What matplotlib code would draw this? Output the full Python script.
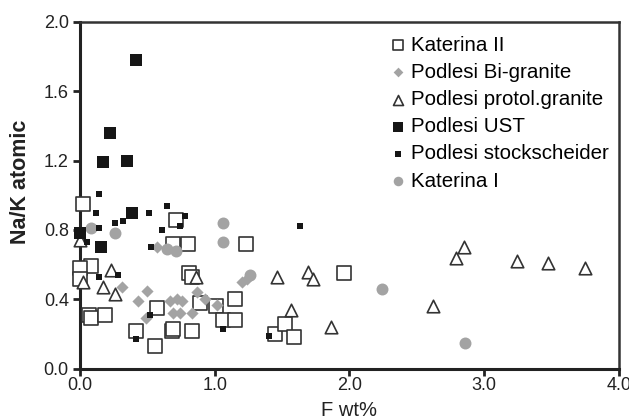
import numpy as np
import matplotlib
matplotlib.use("Agg")
import matplotlib.pyplot as plt

plt.rcParams['font.family'] = ['Liberation Sans', 'DejaVu Sans']

# Katerina II (open squares)
kat2_f = [0.02, 0.08, 0.00, 0.00, 0.07, 0.08, 0.19, 0.71, 0.69, 0.80, 1.23, 0.81, 0.83,
          0.57, 0.42, 0.56, 0.68, 0.69, 0.83, 0.89, 1.01, 1.06, 1.15, 1.15, 1.45, 1.52,
          1.59, 1.96]
kat2_nak = [0.95, 0.59, 0.58, 0.52, 0.31, 0.29, 0.31, 0.86, 0.72, 0.72, 0.72, 0.55, 0.53,
            0.35, 0.22, 0.13, 0.22, 0.23, 0.22, 0.38, 0.36, 0.28, 0.28, 0.40, 0.20, 0.26,
            0.18, 0.55]

# Podlesi Bi-granite (grey diamonds)
bi_f = [0.57, 0.31, 0.50, 0.43, 0.49, 0.67, 0.72, 0.76, 0.69, 0.74, 0.83, 0.87, 0.93,
        1.02, 1.20, 1.24]
bi_nak = [0.70, 0.47, 0.45, 0.39, 0.29, 0.39, 0.40, 0.39, 0.32, 0.32, 0.32, 0.44, 0.40,
          0.37, 0.50, 0.52]

# Podlesi protolithionite granite (open triangles)
prot_f = [0.00, 0.02, 0.23, 0.17, 0.26, 0.86, 1.46, 1.69, 1.73, 1.57, 1.86, 2.62, 2.79,
          2.85, 3.24, 3.47, 3.75]
prot_nak = [0.74, 0.50, 0.57, 0.47, 0.43, 0.53, 0.53, 0.56, 0.52, 0.34, 0.24, 0.36, 0.64,
            0.70, 0.62, 0.61, 0.58]

# Podlesi UST (large black squares)
ust_f = [0.42, 0.22, 0.17, 0.35, 0.39, 0.16, 0.00]
ust_nak = [1.78, 1.36, 1.19, 1.20, 0.90, 0.70, 0.78]

# Podlesi stockscheider (small black squares)
stock_f = [0.14, 0.12, 0.14, 0.26, 0.32, 0.51, 0.65, 0.61, 0.53, 0.05, 0.14, 0.28, 0.78,
           0.74, 1.63, 0.52, 0.42, 1.06, 1.40]
stock_nak = [1.01, 0.90, 0.81, 0.84, 0.85, 0.90, 0.94, 0.80, 0.70, 0.73, 0.53, 0.54, 0.88,
             0.82, 0.82, 0.31, 0.17, 0.23, 0.19]

# Katerina I (grey circles)
kat1_f = [0.08, 0.26, 0.65, 0.71, 1.06, 1.06, 1.26, 2.24, 2.86]
kat1_nak = [0.81, 0.78, 0.69, 0.68, 0.84, 0.73, 0.54, 0.46, 0.15]

xticks = [0.0, 1.0, 2.0, 3.0, 4.0]
yticks = [0.0, 0.4, 0.8, 1.2, 1.6, 2.0]

grey = '#a3a3a3'
edge = '#333333'

fig = plt.figure(figsize=(6.29, 4.19), dpi=100)
ax = fig.add_axes([0.127, 0.12, 0.857, 0.828])

ax.scatter(kat2_f, kat2_nak, s=9.5**2, marker='s', facecolor='white', edgecolor=edge,
           linewidth=1.2, clip_on=False, zorder=3, label='Katerina II')
ax.scatter(bi_f, bi_nak, s=6.2**2, marker='D', color=grey, linewidth=0,
           clip_on=False, zorder=3, label='Podlesi Bi-granite')
ax.scatter(prot_f, prot_nak, s=9**2, marker='^', facecolor='white', edgecolor=edge,
           linewidth=1.2, clip_on=False, zorder=3, label='Podlesi protol.granite')
ax.scatter(ust_f, ust_nak, s=9**2, marker='s', color='#161616', linewidth=0,
           clip_on=False, zorder=4, label='Podlesi UST')
ax.scatter(stock_f, stock_nak, s=4.8**2, marker='s', color='#161616', linewidth=0,
           clip_on=False, zorder=4, label='Podlesi stockscheider')
ax.scatter(kat1_f, kat1_nak, s=8.6**2, marker='o', color=grey, linewidth=0,
           clip_on=False, zorder=3, label='Katerina I')

ax.set_xlim(0, 4.0)
ax.set_ylim(0, 2.0)
ax.set_xticks(xticks)
ax.set_xticklabels(['%.1f' % v for v in xticks])
ax.set_yticks(yticks)
ax.set_yticklabels(['%.1f' % v for v in yticks])
ax.tick_params(axis='both', direction='out', length=5, width=2, labelsize=13,
               colors='#222222')
ax.tick_params(axis='x', pad=1)
ax.tick_params(axis='y', pad=3)

for side in ['left', 'bottom']:
    ax.spines[side].set_linewidth(2.2)
    ax.spines[side].set_color('#222222')
for side in ['top', 'right']:
    ax.spines[side].set_linewidth(1.8)
    ax.spines[side].set_color('#333333')

ax.set_xlabel('F wt%', fontsize=14.5, color='#222222', labelpad=5)
ax.set_ylabel('Na/K atomic', fontsize=15.5, fontweight='bold', color='#222222')
ax.yaxis.set_label_coords(-0.09, 0.54)

ax.legend(loc='upper left', bbox_to_anchor=(0.56, 0.984), frameon=False, fontsize=14.8,
          handletextpad=0.2, labelspacing=0.4, borderaxespad=0, handlelength=0.8,
          scatterpoints=1, markerscale=0.8)

fig.savefig('out.png', dpi=100)
